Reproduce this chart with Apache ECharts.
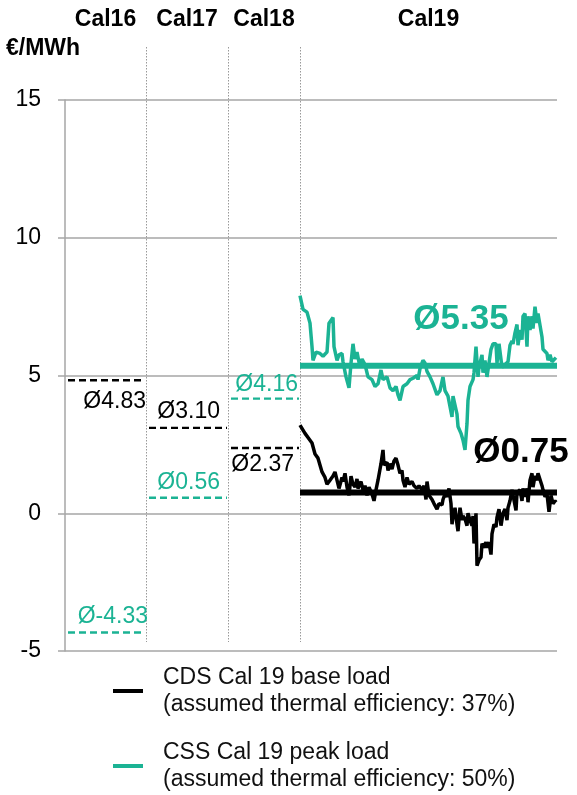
<!DOCTYPE html>
<html><head><meta charset="utf-8">
<script src="https://cdn.jsdelivr.net/npm/echarts@6/dist/echarts.min.js"></script>
<style>html,body{margin:0;padding:0;background:#fff}#c{width:577px;height:795px}</style>
</head><body><div id="c"></div>
<script>
// ---------------- data ----------------
const years = ['Cal16', 'Cal17', 'Cal18', 'Cal19'];
const cdsAvg = [4.83, 3.10, 2.37, 0.75];
const cssAvg = [-4.33, 0.56, 4.16, 5.35];
const yTicks = [-5, 0, 5, 10, 15];
const unitLabel = '€/MWh';
const cdsName = 'CDS Cal 19 base load\n(assumed thermal efficiency: 37%)';
const cssName = 'CSS Cal 19 peak load\n(assumed thermal efficiency: 50%)';

// Cal19 daily spreads (trading day index, value)
const cdsDays = [0,2.5,4,6,7.5,9,11,11.5,12.5,13.5,15,16.5,17.5,18.5,19.5,21,21.5,22.5,23.5,24.5,25.5,26.5,27.5,28.5,29,30.5,31.5,32.5,33.5,34.5,36,37,38,39,40.5,41.5,42,43.5,44,45,46,47,48,49,50,51,51.5,52.5,53.5,54.5,56,57,58.5,59.5,61,62,63,63.5,64.5,66,67,68.5,69.5,71,71.5,72.5,73.5,74.5,75.5,76,76.5,77.5,78.5,79,80,81,81.5,82.5,83.5,84,85,86,86.5,87,88,88.5,89.5,90.5,91,92,93,93.5,94.5,95.5,96,97,98,98.5,99.5,100.5,101.5,102.5,103.5,104,105,106,107,108,108.5,110,111,111.5,112.5,113.5,114,115,116,116.5,117.5,118.5,119,120,121,121.5,122.5,123.5,124.5,125.5,126.5,127.5,128];
const cdsValues = [3.2,2.9,2.75,2.55,2.15,2.0,1.5,1.55,1.3,1.05,1.2,1.35,1.5,1.2,0.9,1.3,1.15,1.45,0.95,0.65,1.35,1.05,0.95,1.25,0.9,1.15,0.85,1.0,0.65,0.95,0.7,0.45,0.85,1.2,1.8,2.3,1.75,1.85,1.55,1.8,1.6,1.9,2.0,1.75,1.45,1.55,1.2,0.95,1.3,1.05,1.15,1.0,0.9,1.0,0.85,1.0,0.5,1.15,0.65,0.5,0.35,0.15,0.35,0.3,0.5,0.7,0.6,0.9,0.35,-0.4,-0.15,0.2,-0.4,-0.65,0.2,-0.25,-0.1,-0.2,-0.45,0.0,-0.25,-0.45,-0.1,-1.1,0.0,-1.9,-1.7,-1.6,-1.1,-1.25,-1.05,-1.25,-1.05,-1.5,-0.75,-0.4,-0.5,-0.15,0.15,-0.45,0.0,0.15,-0.25,0.2,0.45,0.85,0.85,0.1,0.75,0.85,0.45,0.9,0.6,0.9,0.4,1.2,1.45,0.95,1.35,1.2,1.45,1.5,1.0,0.85,0.6,0.7,0.05,0.65,0.35,0.45,0.4];
const cssDays = [0,1.5,3.5,5,6,6.5,8,10,11.5,13.5,14.5,16.5,17,18.5,19.5,21,21.5,23,24.5,25.5,26.5,27.5,28.5,30,31,32.5,34,36,37.5,39,40.5,41.5,43.5,45,46.5,48,49,50,51.5,53.5,55,56.5,58.5,59,60,61.5,62.5,63.5,65,66.5,68.5,70,71.5,72.5,74,76,76.5,78.5,79,80.5,81.5,82.5,83.5,84,85,86.5,87,88,89,89.5,91,91.5,92.5,93.5,94.5,95.5,96.5,98,98.5,99.5,101,102.5,104,105,106,106.5,107.5,108.5,109,110,111,111.5,112.5,113.5,114,115,116,116.5,117.5,118.5,119,120,121,121.5,122.5,123.5,124,125,126,126.5,128];
const cssValues = [7.9,7.4,7.3,6.9,6.05,5.55,5.85,5.8,5.7,5.85,6.9,7.1,6.05,5.55,5.75,5.8,5.5,4.95,4.55,5.45,6.15,5.6,5.85,5.3,5.6,5.4,4.95,4.85,4.6,4.7,5.2,4.85,4.95,4.55,4.45,4.6,4.3,4.1,4.6,4.7,4.85,4.9,5.0,4.85,5.25,5.55,5.45,5.15,4.95,4.7,4.3,4.45,4.95,4.45,4.25,3.5,4.25,3.6,3.15,2.9,2.65,2.3,3.25,4.1,4.6,4.85,5.1,6.05,4.95,5.3,5.75,5.1,5.55,4.95,5.45,5.95,6.15,6.15,5.45,6.15,5.3,5.4,5.5,6.1,6.25,6.15,6.55,6.85,6.1,6.65,6.3,7.15,7.25,6.05,7.15,6.65,7.15,6.7,7.5,6.9,7.25,7.2,6.4,5.95,5.95,5.8,5.55,5.75,5.5,5.55,5.65];

// ---------------- layout ----------------
const colStart = [-117.5, -77, -36, 0];
const colEnd = [-77, -36, 0, 128.5];
const GREEN = '#1bb394';
const FONT = '"Liberation Sans", Arial, sans-serif';
const fmt = v => 'Ø' + v.toFixed(2);

const zip = (a, b) => a.slice(0, Math.min(a.length, b.length)).map((d, i) => [d, b[i]]);

const series = [];
series.push({ name: cdsName, type: 'line', data: zip(cdsDays, cdsValues), symbol: 'none',
  lineStyle: { color: '#000', width: 3.5 }, itemStyle: { color: '#000' }, z: 3 });
series.push({ name: cssName, type: 'line', data: zip(cssDays, cssValues), symbol: 'none',
  lineStyle: { color: GREEN, width: 3.5 }, itemStyle: { color: GREEN }, z: 3 });

// earlier years: dashed average lines
for (let i = 0; i < 3; i++) {
  series.push({ type: 'line', symbol: 'none', silent: true, z: 3,
    data: [[colStart[i] + 1.5, cdsAvg[i]], [colEnd[i] - 0.5, cdsAvg[i]]],
    lineStyle: { color: '#000', width: 2.4, type: [7, 4] } });
  series.push({ type: 'line', symbol: 'none', silent: true, z: 3,
    data: [[colStart[i] + 1.5, cssAvg[i]], [colEnd[i] - 0.5, cssAvg[i]]],
    lineStyle: { color: GREEN, width: 2.4, type: [7, 4] } });
}
// Cal19 averages: solid thick lines
series.push({ type: 'line', symbol: 'none', silent: true, z: 4,
  data: [[colStart[3], cssAvg[3]], [colEnd[3], cssAvg[3]]], lineStyle: { color: GREEN, width: 6 } });
series.push({ type: 'line', symbol: 'none', silent: true, z: 4,
  data: [[colStart[3], cdsAvg[3]], [colEnd[3], cdsAvg[3]]], lineStyle: { color: '#000', width: 6 } });

// value labels
const smallOffsets = [
  { cds: [1, 21], css: [3, -16] },
  { cds: [-7, -16], css: [-7, -15] },
  { cds: [-5, 17], css: [-1, -14] }
];
const labelData = [];
for (let i = 0; i < 3; i++) {
  labelData.push({ value: [colEnd[i] - 0.5, cdsAvg[i]], label: { formatter: fmt(cdsAvg[i]), color: '#000', align: 'right', offset: smallOffsets[i].cds } });
  labelData.push({ value: [colEnd[i] - 0.5, cssAvg[i]], label: { formatter: fmt(cssAvg[i]), color: GREEN, align: 'right', offset: smallOffsets[i].css } });
}
labelData.push({ value: [80.5, cssAvg[3]], label: { formatter: fmt(cssAvg[3]), color: GREEN, align: 'center', fontSize: 35, fontWeight: 'bold', offset: [0, -47] } });
labelData.push({ value: [110.5, cdsAvg[3]], label: { formatter: fmt(cdsAvg[3]), color: '#000', align: 'center', fontSize: 35, fontWeight: 'bold', offset: [0, -40] } });
series.push({ type: 'scatter', data: labelData, symbolSize: 0, itemStyle: { color: '#000', opacity: 1 }, silent: true, z: 6,
  label: { show: true, position: 'inside', verticalAlign: 'middle', fontSize: 23, fontFamily: FONT, textBorderWidth: 0, opacity: 1 } });

const chart = echarts.init(document.getElementById('c'), null, { renderer: 'canvas' });
chart.setOption({
  animation: false,
  backgroundColor: '#fff',
  textStyle: { fontFamily: FONT },
  grid: { left: 65, right: 20, top: 100, bottom: 144 },
  xAxis: { type: 'value', min: colStart[0], max: colEnd[3], show: false },
  yAxis: {
    type: 'value', min: yTicks[0], max: yTicks[yTicks.length - 1], interval: yTicks[1] - yTicks[0],
    axisLine: { show: true, onZero: false, lineStyle: { color: '#a6a6a6', width: 1.5 } },
    axisTick: { show: true, length: 7, lineStyle: { color: '#a6a6a6', width: 1.5 } },
    splitLine: { show: true, lineStyle: { color: '#a6a6a6', width: 1.5 } },
    axisLabel: { fontSize: 23, color: '#000', margin: 24, fontFamily: FONT }
  },
  legend: {
    data: [cdsName, cssName], orient: 'vertical', left: 113, top: 664, padding: 0,
    icon: 'rect', itemWidth: 30, itemHeight: 4, itemGap: 21, selectedMode: false,
    textStyle: { fontSize: 23, lineHeight: 27, color: '#111', fontFamily: FONT, padding: [0, 0, 0, 15] }
  },
  series: series
});

// decorations: column separators, headers, unit
const px = v => chart.convertToPixel({ gridIndex: 0 }, [v, 0])[0];
const py = v => chart.convertToPixel({ gridIndex: 0 }, [0, v])[1];
const elements = [];
for (let i = 0; i < 3; i++) {
  const x = Math.round(px(colEnd[i])) + 0.5;
  elements.push({ type: 'line', silent: true, shape: { x1: x, y1: 47, x2: x, y2: py(yTicks[0]) - 9 },
    style: { stroke: '#999', lineWidth: 1, lineDash: [1.5, 1.5] } });
}
years.forEach((y, i) => {
  elements.push({ type: 'text', silent: true, x: px((colStart[i] + colEnd[i]) / 2), y: 20,
    style: { text: y, fill: '#000', font: 'bold 23px ' + FONT, textAlign: 'center', textVerticalAlign: 'middle' } });
});
elements.push({ type: 'text', silent: true, x: 6, y: 49,
  style: { text: unitLabel, fill: '#000', font: 'bold 23px ' + FONT, textAlign: 'left', textVerticalAlign: 'middle' } });
chart.setOption({ graphic: { elements: elements } });
</script>
</body></html>
